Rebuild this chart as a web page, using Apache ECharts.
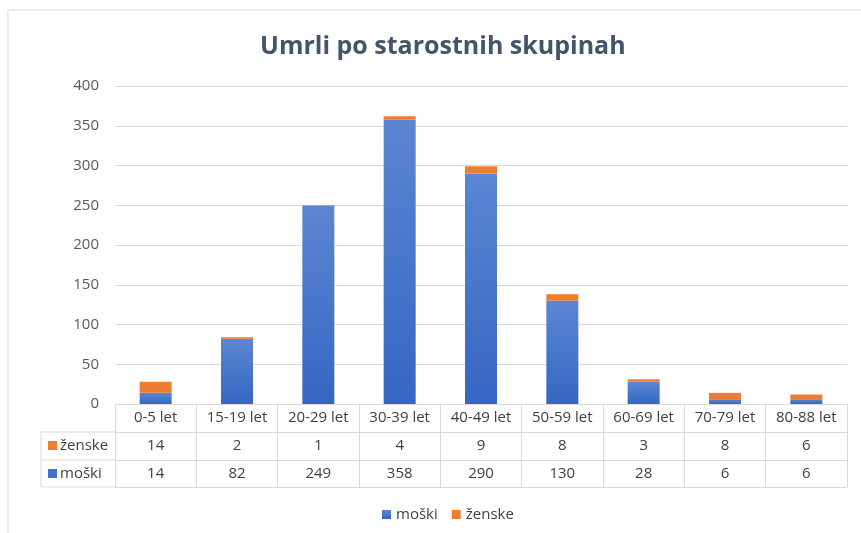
<!DOCTYPE html>
<html>
<head>
<meta charset="utf-8">
<script src="https://cdn.jsdelivr.net/npm/echarts@6/dist/echarts.min.js"></script>
<style>
  html, body { margin: 0; padding: 0; background: #fff; }
  #graf { width: 861px; height: 533px; }
</style>
</head>
<body>
<div id="graf"></div>
<script>
// podatki
const skupine = ["0-5 let", "15-19 let", "20-29 let", "30-39 let", "40-49 let", "50-59 let", "60-69 let", "70-79 let", "80-88 let"];
const moski = [14, 82, 249, 358, 290, 130, 28, 6, 6];
const zenske = [14, 2, 1, 4, 9, 8, 3, 8, 6];
const yOznake = [0, 50, 100, 150, 200, 250, 300, 350, 400];

const modra = "#4472c4";
const oranzna = "#ed7d31";
const crta = "#d9d9d9";
const pisava = "'Open Sans', 'Noto Sans', sans-serif";

let myChart = echarts.init(document.getElementById("graf"));

// vrstica tabele kot dodatna x os
function vrsticaTabele(offset, vrednosti) {
    return {
        type: "category",
        data: skupine,
        position: "bottom",
        offset: offset,
        axisLine: { show: true, lineStyle: { color: crta } },
        axisTick: { show: false },
        axisLabel: {
            margin: 6,
            fontSize: 15,
            fontFamily: pisava,
            color: "#404040",
            formatter: (v, i) => String(vrednosti[i])
        }
    };
}

let option = {
    animation: false,
    title: {
        text: "Umrli po starostnih skupinah",
        left: 255,
        top: 29,
        textStyle: {
            color: "#44546a",
            fontSize: 25,
            fontWeight: "bold",
            fontFamily: pisava
        }
    },
    legend: {
        bottom: 6,
        left: 377,
        itemWidth: 9,
        itemHeight: 9,
        itemGap: 14,
        icon: "rect",
        data: ["moški", "ženske"],
        textStyle: { fontSize: 15, color: "#404040", fontFamily: pisava }
    },
    grid: { left: 115, right: 14, top: 86, bottom: 129 },
    yAxis: {
        type: "value",
        min: yOznake[0],
        max: yOznake[yOznake.length - 1],
        interval: 50,
        axisLine: { show: false },
        axisTick: { show: false },
        axisLabel: { margin: 16, fontSize: 15, color: "#595959", fontFamily: pisava },
        splitLine: { lineStyle: { color: crta } }
    },
    xAxis: [
        {
            type: "category",
            data: skupine,
            position: "bottom",
            axisLine: { show: true, lineStyle: { color: crta } },
            axisTick: { show: true, length: 83, lineStyle: { color: crta } },
            axisLabel: { margin: 6, fontSize: 15, color: "#404040", fontFamily: pisava, interval: 0 }
        },
        vrsticaTabele(28, zenske),
        vrsticaTabele(56, moski),
        {
            type: "category",
            data: skupine,
            position: "bottom",
            offset: 83,
            axisLine: { show: true, lineStyle: { color: crta } },
            axisTick: { show: false },
            axisLabel: { show: false }
        }
    ],
    series: [
        {
            name: "moški",
            type: "bar",
            stack: "skupaj",
            xAxisIndex: 0,
            barWidth: 32,
            data: moski,
            itemStyle: {
                color: new echarts.graphic.LinearGradient(0, 0, 0, 1, [
                    { offset: 0, color: "#5b86d2" },
                    { offset: 1, color: "#3566c3" }
                ])
            }
        },
        {
            name: "ženske",
            type: "bar",
            stack: "skupaj",
            xAxisIndex: 0,
            barWidth: 32,
            data: zenske,
            itemStyle: { color: oranzna }
        }
    ],
    color: [modra, oranzna],
    graphic: [
        // okvir
        { type: "rect", shape: { x: 8, y: 10, width: 900, height: 600 }, style: { fill: "none", stroke: "#d9d9d9", lineWidth: 1 }, silent: true },
        // leva stran tabele
        { type: "line", shape: { x1: 41, y1: 432, x2: 115, y2: 432 }, style: { stroke: crta } },
        { type: "line", shape: { x1: 41, y1: 460, x2: 115, y2: 460 }, style: { stroke: crta } },
        { type: "line", shape: { x1: 41, y1: 487, x2: 115, y2: 487 }, style: { stroke: crta } },
        { type: "line", shape: { x1: 41, y1: 432, x2: 41, y2: 487 }, style: { stroke: crta } },
        { type: "rect", shape: { x: 48, y: 441, width: 9, height: 9 }, style: { fill: oranzna } },
        { type: "text", x: 60, y: 446, style: { text: "ženske", fontSize: 15, fill: "#404040", fontFamily: pisava, verticalAlign: "middle" } },
        { type: "rect", shape: { x: 48, y: 469, width: 9, height: 9 }, style: { fill: modra } },
        { type: "text", x: 60, y: 474, style: { text: "moški", fontSize: 15, fill: "#404040", fontFamily: pisava, verticalAlign: "middle" } }
    ]
};

myChart.setOption(option);
</script>
</body>
</html>
